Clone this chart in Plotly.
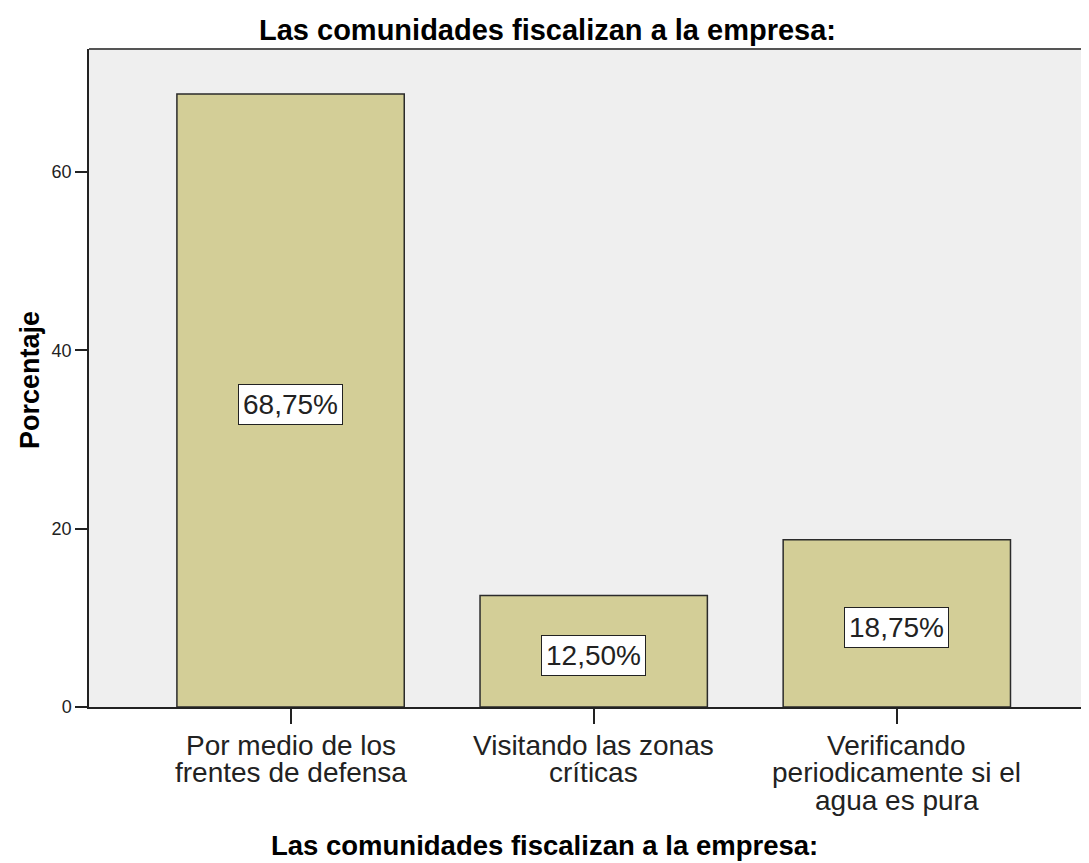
import plotly.graph_objects as go

categories = ["Por medio de los<br>frentes de defensa",
              "Visitando las zonas<br>críticas",
              "Verificando<br>periodicamente si el<br>agua es pura"]
values = [68.75, 12.50, 18.75]
value_labels = ["68,75%", "12,50%", "18,75%"]
y_ticks = [0, 20, 40, 60]
title_text = "Las comunidades fiscalizan a la empresa:"
x_title = "Las comunidades fiscalizan a la empresa:"
y_title = "Porcentaje"

FONT = "Liberation Sans, Arial, sans-serif"
TXT = "#222"

fig = go.Figure()
fig.add_trace(go.Bar(
    x=list(range(len(categories))),
    y=values,
    width=0.75,
    marker=dict(color="#D3CE97", line=dict(color="#2b2b2b", width=1.5)),
    hoverinfo="skip",
))

for i, (v, lab) in enumerate(zip(values, value_labels)):
    fig.add_annotation(
        x=i, y=v / 2, text=lab, showarrow=False, yshift=-4,
        font=dict(family=FONT, size=28, color=TXT),
        bgcolor="white", bordercolor="#222", borderwidth=1, borderpad=4,
    )

# category labels, one annotation per line for tight line spacing
for i, cat in enumerate(categories):
    for k, line in enumerate(cat.split("<br>")):
        fig.add_annotation(
            x=i, xref="x", y=0, yref="paper", yanchor="middle",
            yshift=-(38 + k * 27.5), text=line, showarrow=False,
            font=dict(family=FONT, size=28, color=TXT),
        )

fig.add_annotation(x=0.5, xref="paper", y=0, yref="paper", yanchor="middle",
                   yshift=-138, xanchor="center", xshift=-45,
                   text=x_title, showarrow=False,
                   font=dict(family=FONT, size=27.5, color="black", weight="bold"))
fig.add_annotation(x=0.5, xref="paper", y=1, yref="paper", yanchor="middle",
                   yshift=19, xanchor="center", xshift=-42,
                   text=title_text, showarrow=False,
                   font=dict(family=FONT, size=29, color="black", weight="bold"))
fig.add_annotation(x=0, xref="paper", y=0.5, yref="paper", xanchor="center",
                   yanchor="middle", xshift=-59, yshift=-2,
                   text=y_title, textangle=-90, showarrow=False,
                   font=dict(family=FONT, size=27, color="black", weight="bold"))

fig.update_layout(
    width=1081, height=855,
    margin=dict(l=81, r=0, t=41, b=156, autoexpand=False),
    paper_bgcolor="white",
    plot_bgcolor="#EFEFEF",
    showlegend=False,
    font=dict(family=FONT, color=TXT),
)

fig.update_xaxes(
    range=[-0.665, 2.634], automargin=False,
    tickmode="array", tickvals=list(range(len(categories))), showticklabels=False,
    ticks="outside", ticklen=15, tickwidth=1.5, tickcolor="#222",
    showline=True, linecolor="#222", linewidth=1.5,
    showgrid=False, zeroline=False,
)
fig.update_yaxes(
    range=[0, 73.8], automargin=False,
    tickmode="array", tickvals=y_ticks,
    ticks="outside", ticklen=12, tickwidth=1.5, tickcolor="#222",
    tickfont=dict(family=FONT, size=18, color=TXT),
    showline=True, linecolor="#222", linewidth=1.5,
    showgrid=False, zeroline=False,
)

fig.add_shape(type="line", xref="paper", yref="paper", x0=0, x1=1, y0=1, y1=1,
              line=dict(color="#555", width=2))

fig.write_html("out.html")
